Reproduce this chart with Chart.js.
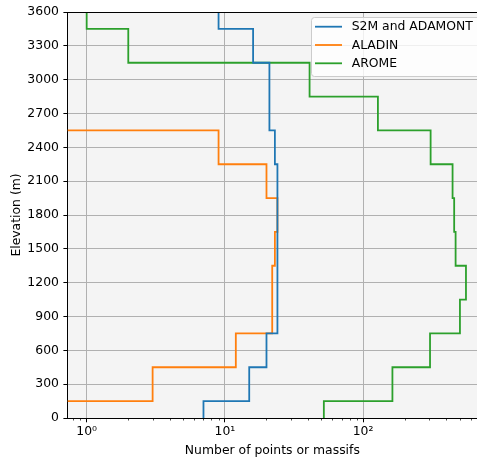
<!DOCTYPE html>
<html>
<head>
<meta charset="utf-8">
<script src="https://cdn.jsdelivr.net/npm/chart.js@4.4.0/dist/chart.umd.min.js"></script>
<style>
  html, body { margin: 0; padding: 0; background: #fff; }
  #wrap { width: 477px; height: 460px; position: relative; overflow: hidden; }
</style>
</head>
<body>
<div id="wrap"><canvas id="elevChart" width="477" height="460"></canvas></div>
<script>
// elevation band centres (m) and counts per band
const elevations = [0, 300, 600, 900, 1200, 1500, 1800, 2100, 2400, 2700, 3000, 3300, 3600];
const s2mCounts = [7, 15, 20, 24, 24, 24, 24, 24, 23, 21, 21, 16, 9];
const aladinCounts = [0, 3, 12, 22, 22, 23, 24, 20, 9, 0, 0, 0, 0];
const aromeCounts = [52, 163, 305, 502, 555, 467, 456, 444, 308, 128, 41, 2, 1];

const seriesNames = ['S2M and ADAMONT', 'ALADIN', 'AROME'];
const seriesColors = ['#1f77b4', '#ff7f0e', '#2ca02c'];

const yTicks = [0, 300, 600, 900, 1200, 1500, 1800, 2100, 2400, 2700, 3000, 3300, 3600];
const xMajorTicks = [1, 10, 100];
const supDigits = { 0: '⁰', 1: '¹', 2: '²' };

const FONT = "'DejaVu Sans', sans-serif";
const bandHalf = 150;
const zeroFloor = 0.5; // a zero count sits left of the log axis and gets clipped

// each band becomes a vertical segment, joined by horizontal steps
function stepPoints(counts) {
  const pts = [];
  const top = elevations[elevations.length - 1];
  counts.forEach((c, i) => {
    const lo = Math.max(0, elevations[i] - bandHalf);
    const hi = Math.min(top, elevations[i] + bandHalf);
    const x = c > 0 ? c : zeroFloor;
    pts.push({ x: x, y: lo }, { x: x, y: hi });
  });
  return pts;
}

const allCounts = [s2mCounts, aladinCounts, aromeCounts];

// grey plot background
const plotBg = {
  id: 'plotBg',
  beforeDraw(chart) {
    const { ctx, chartArea: a } = chart;
    ctx.save();
    ctx.fillStyle = '#f4f4f4';
    ctx.fillRect(a.left, a.top, a.right - a.left, a.bottom - a.top);
    ctx.restore();
  }
};

// top spine, minor log ticks and the framed legend
const extras = {
  id: 'extras',
  afterDraw(chart) {
    const { ctx, chartArea: a } = chart;
    const xs = chart.scales.x;
    ctx.save();

    ctx.strokeStyle = '#000';
    ctx.lineWidth = 1;
    ctx.beginPath();
    ctx.moveTo(a.left, a.top + 0.5);
    ctx.lineTo(a.right, a.top + 0.5);
    ctx.stroke();

    ctx.lineWidth = 0.7;
    for (let d = -1; d <= 3; d++) {
      for (let k = 2; k <= 9; k++) {
        const v = k * Math.pow(10, d);
        if (v < xs.min || v > xs.max) continue;
        const px = Math.round(xs.getPixelForValue(v)) + 0.5;
        ctx.beginPath();
        ctx.moveTo(px, a.bottom);
        ctx.lineTo(px, a.bottom + 2.5);
        ctx.stroke();
      }
    }

    // legend
    const bx = 311.5, by = 17.5, bw = 180, bh = 59;
    ctx.fillStyle = 'rgba(255,255,255,0.8)';
    ctx.strokeStyle = '#cccccc';
    ctx.lineWidth = 1;
    ctx.beginPath();
    ctx.roundRect(bx, by, bw, bh, 3);
    ctx.fill();
    ctx.stroke();

    ctx.font = '12.4px ' + FONT;
    ctx.textBaseline = 'middle';
    chart.data.datasets.forEach((ds, i) => {
      const ry = 26.7 + i * 18.3;
      ctx.strokeStyle = ds.borderColor;
      ctx.lineWidth = 1.8;
      ctx.beginPath();
      ctx.moveTo(315, ry);
      ctx.lineTo(342, ry);
      ctx.stroke();
      ctx.fillStyle = '#000';
      ctx.fillText(ds.label, 351.7, ry + 0.5);
    });

    ctx.restore();
  }
};

new Chart(document.getElementById('elevChart'), {
  type: 'scatter',
  data: {
    datasets: allCounts.map((counts, i) => ({
      label: seriesNames[i],
      data: stepPoints(counts),
      showLine: true,
      borderColor: seriesColors[i],
      backgroundColor: seriesColors[i],
      borderWidth: 1.8,
      pointRadius: 0,
      pointHoverRadius: 0,
      tension: 0
    }))
  },
  options: {
    responsive: false,
    animation: false,
    devicePixelRatio: 1,
    layout: { padding: { top: 12, right: 0, bottom: 0, left: 0 } },
    plugins: {
      legend: { display: false },
      tooltip: { enabled: false }
    },
    scales: {
      x: {
        type: 'logarithmic',
        bounds: 'data',
        min: 0.729,
        max: 667,
        afterFit: s => { s.height = 42; },
        afterBuildTicks: s => { s.ticks = xMajorTicks.map(v => ({ value: v })); },
        grid: { color: '#b0b0b0', lineWidth: 1, tickLength: 4.3, tickColor: '#000' },
        border: { color: '#000', width: 1 },
        ticks: {
          color: '#000',
          font: { family: FONT, size: 12.4 },
          padding: 2,
          maxRotation: 0,
          autoSkip: false,
          callback: v => '10' + supDigits[Math.round(Math.log10(v))]
        },
        title: {
          display: true,
          text: 'Number of points or massifs',
          color: '#000',
          font: { family: FONT, size: 12.4 },
          padding: { top: 0, bottom: 2 }
        }
      },
      y: {
        type: 'linear',
        bounds: 'data',
        min: 0,
        max: 3600,
        afterFit: s => { s.width = 67.7; },
        afterBuildTicks: s => { s.ticks = yTicks.map(v => ({ value: v })); },
        grid: { color: '#b0b0b0', lineWidth: 1, tickLength: 4.3, tickColor: '#000' },
        border: { color: '#000', width: 1 },
        ticks: {
          color: '#000',
          font: { family: FONT, size: 12.4 },
          padding: 4.5,
          callback: v => String(v)
        },
        title: {
          display: true,
          text: 'Elevation (m)',
          color: '#000',
          font: { family: FONT, size: 12.4 },
          padding: { top: 9.5, bottom: 0 }
        }
      }
    }
  },
  plugins: [plotBg, extras]
});
</script>
</body>
</html>
